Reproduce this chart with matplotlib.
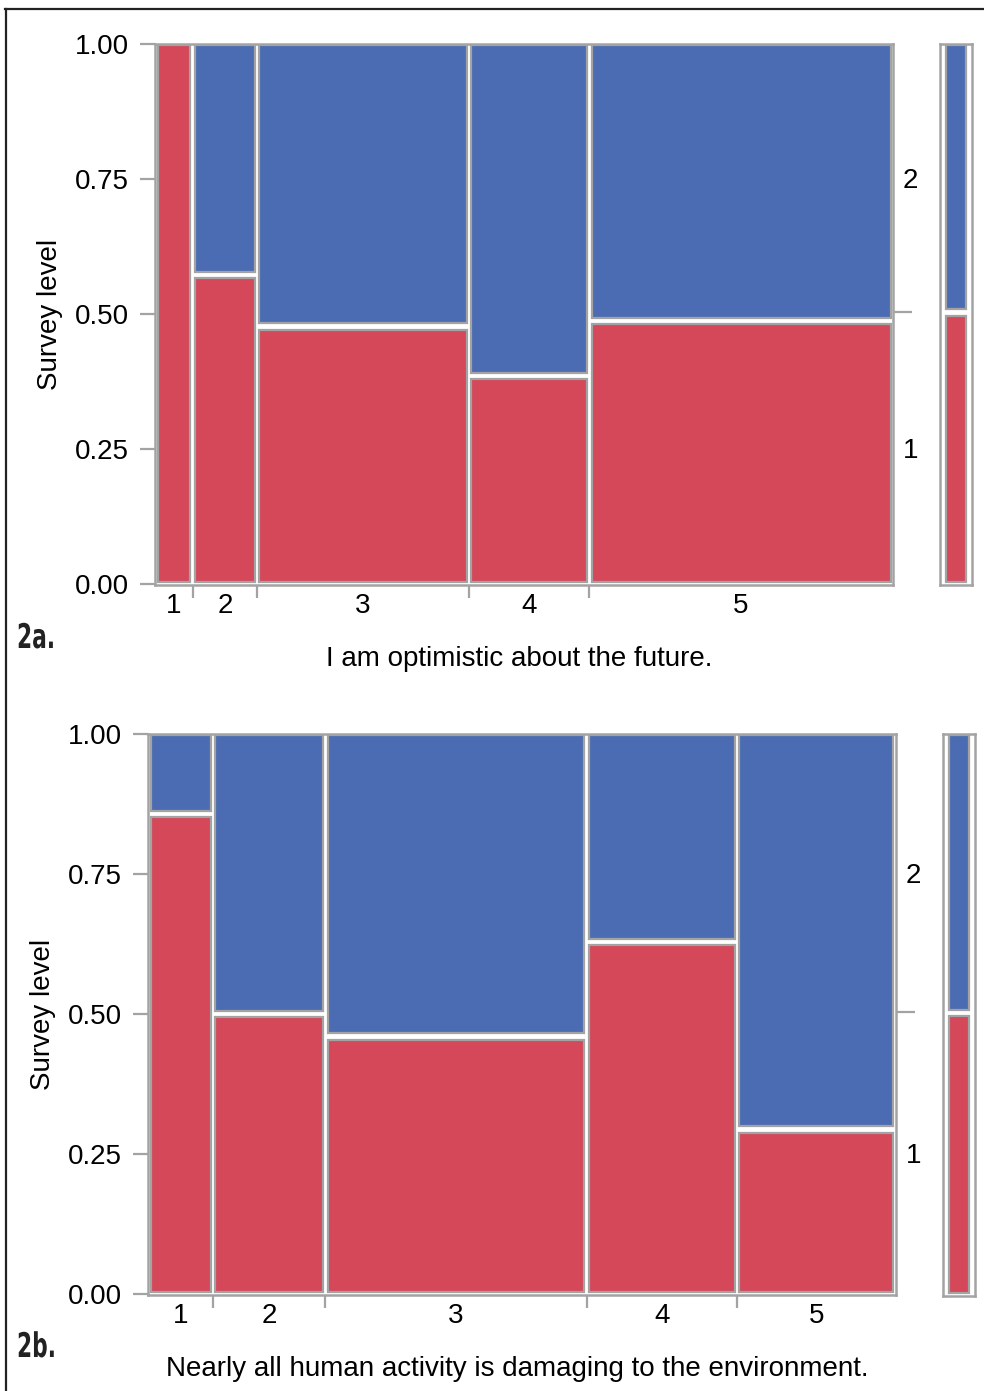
import matplotlib
matplotlib.use("Agg")
import matplotlib.pyplot as plt
from matplotlib.patches import Rectangle, PathPatch
from matplotlib.lines import Line2D
from matplotlib.textpath import TextPath
from matplotlib.font_manager import FontProperties
from matplotlib.transforms import Affine2D, IdentityTransform

plt.rcParams['font.family'] = ['Liberation Sans', 'DejaVu Sans']

# panel 2a - "I am optimistic about the future."
a_levels = ['1', '2', '3', '4', '5']
a_widths = [0.046, 0.084, 0.290, 0.162, 0.418]   # share of respondents per answer
a_red = [1.0, 0.572, 0.477, 0.385, 0.487]         # share of survey level 1
a_marg = 0.503

# panel 2b - "Nearly all human activity is damaging to the environment."
b_levels = ['1', '2', '3', '4', '5']
b_widths = [0.083, 0.149, 0.354, 0.201, 0.213]
b_red = [0.857, 0.50, 0.46, 0.629, 0.294]
b_marg = 0.503

survey_levels = ['1', '2']

RED = '#d4485a'
BLUE = '#4b6cb2'
EDGE = '#a3a3a3'
FS = 20
W, H = 984, 1391

fig = plt.figure(figsize=(W / 100, H / 100), dpi=100)


def box(x0, y0, x1, y1):
    # pixel box -> figure fractions
    return [x0 / W, 1 - y1 / H, (x1 - x0) / W, (y1 - y0) / H]


def tile(ax, x, y, w, h, color):
    ax.add_patch(Rectangle((x, y), w, h, facecolor=color, edgecolor=EDGE,
                           linewidth=1.6))


def tag_text(s, x, baseline):
    # condensed bold panel tag, squeezed horizontally
    tp = TextPath((0, 0), s, size=34,
                  prop=FontProperties(family='DejaVu Sans', weight='bold'))
    tr = Affine2D().scale(0.64, 1.0).translate(x, H - baseline)
    fig.add_artist(PathPatch(tp, transform=tr + IdentityTransform(),
                             facecolor='#222222', edgecolor='none'))


def mosaic(pos, mpos, widths, red, marg, levels, title):
    ax = fig.add_axes(box(*pos))
    pw = pos[2] - pos[0]
    ph = pos[3] - pos[1]
    gx = 4.5 / pw      # horizontal gap, axis units
    gy = 6.5 / ph      # vertical gap
    ix = 2.5 / pw
    iy = 2.5 / ph
    ax.set_xlim(0, 1)
    ax.set_ylim(-1 / ph, 1)
    usable = 1 - 2 * ix - gx * (len(widths) - 1)
    x = ix
    bounds, centers = [], []
    for i, (w, r) in enumerate(zip(widths, red)):
        ww = w * usable
        if r >= 1:
            tile(ax, x, iy, ww, 1 - iy - 1 / ph, RED)
        else:
            tile(ax, x, iy, ww, r - iy - gy / 2, RED)
            tile(ax, x, r + gy / 2, ww, 1 - r - gy / 2 - 1 / ph, BLUE)
        centers.append(x + ww / 2)
        x += ww
        if i < len(widths) - 1:
            bounds.append(x + gx / 2)
            x += gx

    for s in ax.spines.values():
        s.set_color(EDGE)
        s.set_linewidth(1.8)
    ax.set_yticks([0, 0.25, 0.5, 0.75, 1.0])
    ax.set_yticklabels(['0.00', '0.25', '0.50', '0.75', '1.00'])
    ax.set_xticks(bounds)
    ax.set_xticklabels([])
    ax.set_xticks(centers, minor=True)
    ax.set_xticklabels(levels, minor=True)
    ax.tick_params(axis='both', which='major', color=EDGE, width=1.6,
                   length=11, labelsize=FS, pad=8)
    ax.tick_params(axis='x', which='major', length=9)
    ax.tick_params(axis='x', which='minor', length=0, labelsize=FS, pad=6)
    ax.set_ylabel('Survey level', fontsize=FS, labelpad=8)
    ax.set_xlabel(title, fontsize=FS, labelpad=19)
    ax.xaxis.label.set_x(0.5 - 5 / pw)

    # right axis: survey level labels at the middle of each segment
    ay = ax.twinx()
    ay.set_ylim(ax.get_ylim())
    for s in ay.spines.values():
        s.set_visible(False)
    ay.set_yticks([marg])
    ay.set_yticklabels([])
    ay.set_yticks([marg / 2, (1 + marg) / 2], minor=True)
    ay.set_yticklabels(survey_levels, minor=True)
    ay.tick_params(axis='y', which='major', color=EDGE, width=1.6, length=14)
    ay.tick_params(axis='y', which='minor', length=0, labelsize=FS, pad=7)

    # marginal bar
    am = fig.add_axes(box(*mpos))
    mw = mpos[2] - mpos[0]
    mx = 6 / mw
    am.set_xlim(0, 1)
    am.set_ylim(-1 / ph, 1)
    tile(am, mx, iy, 1 - 2 * mx, marg - iy - gy / 2, RED)
    tile(am, mx, marg + gy / 2, 1 - 2 * mx, 1 - marg - gy / 2 - 1 / ph, BLUE)
    am.set_xticks([])
    am.set_yticks([])
    for s in am.spines.values():
        s.set_color(EDGE)
        s.set_linewidth(1.8)


mosaic((155, 44, 893, 585), (940, 44, 972, 585), a_widths, a_red, a_marg,
       a_levels, 'I am optimistic about the future.')
mosaic((148, 734, 896, 1295), (943, 734, 975, 1296), b_widths, b_red, b_marg,
       b_levels, 'Nearly all human activity is damaging to the environment.')
tag_text('2a.', 17, 648)
tag_text('2b.', 17, 1357)

# frame lines of the page
fig.add_artist(Line2D([5 / W, 1], [1 - 9 / H, 1 - 9 / H], color='#222222',
                      linewidth=1.6))
fig.add_artist(Line2D([6 / W, 6 / W], [0, 1 - 9 / H], color='#222222',
                      linewidth=1.6))

fig.savefig('out.png', dpi=100)
